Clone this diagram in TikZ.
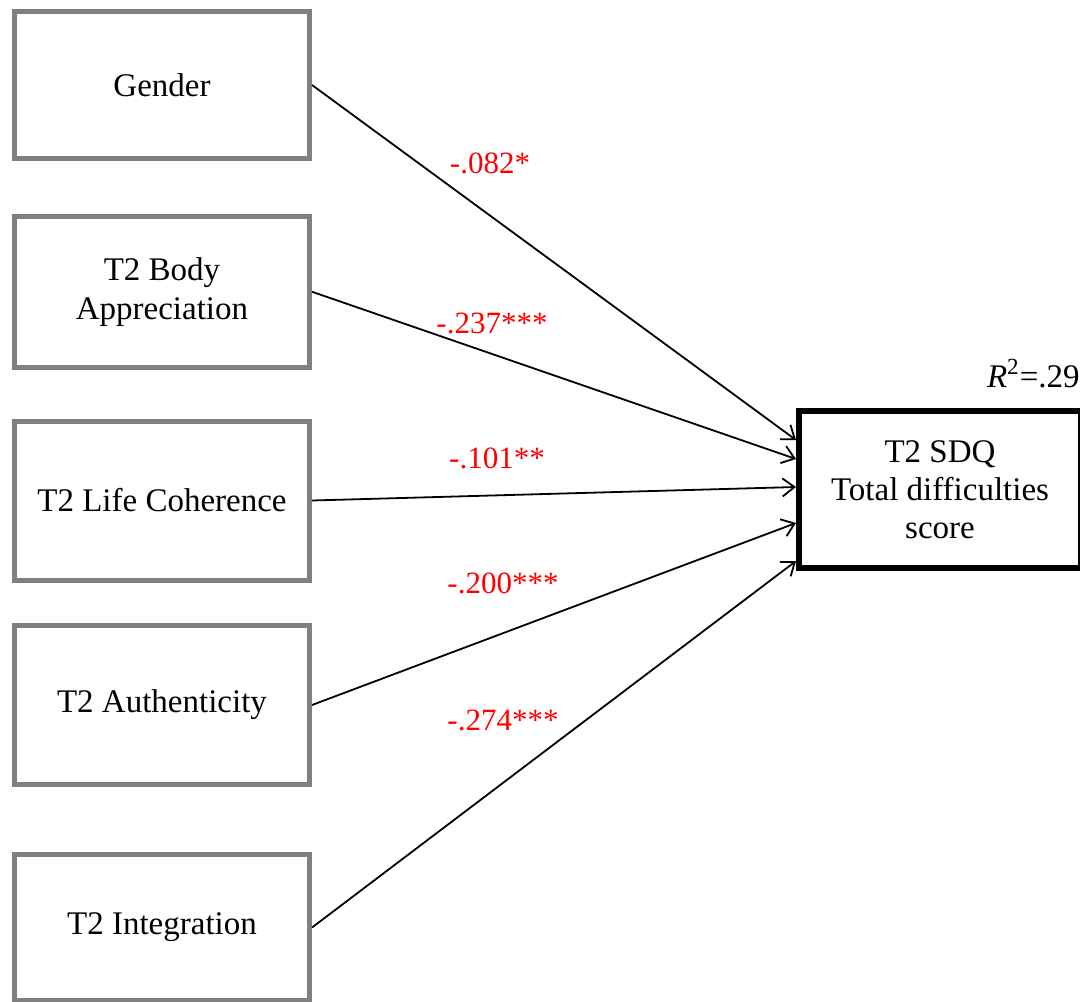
\documentclass[tikz,border=0pt]{standalone}
\usepackage{fontspec}
\setmainfont{Liberation Serif}
\usetikzlibrary{arrows.meta}
\definecolor{boxgray}{HTML}{808080}
\definecolor{coefred}{HTML}{FF0000}
\begin{document}
\begin{tikzpicture}[x=0.5pt,y=-0.5pt,
  predictor/.style={draw=boxgray, line width=2.5pt, fill=white, inner sep=0pt,
    minimum width=147.5pt, align=center,
    font=\fontsize{16.5pt}{19.5pt}\selectfont},
  outcome/.style={draw=black, line width=3pt, fill=white, inner sep=0pt,
    minimum width=141pt, minimum height=78.75pt, align=center,
    font=\fontsize{16.5pt}{19pt}\selectfont},
  path/.style={draw=black, line width=0.9pt,
    -{Straight Barb[length=6pt,width=9pt,line width=0.9pt]}},
  coef/.style={text=coefred, anchor=base, inner sep=0pt,
    font=\fontsize{15.5pt}{18pt}\selectfont}]
  \useasboundingbox (0,0) rectangle (1080,1001);
  \clip (0,0) rectangle (1080,1001);

  % predictors
  \node[predictor, minimum height=73.5pt]  (gender) at (162,85)     {Gender};
  \node[predictor, minimum height=75.75pt] (body)   at (162,291.75) {T2 Body\\Appreciation};
  \node[predictor, minimum height=79.5pt]  (life)   at (162,500.5)  {T2 Life Coherence};
  \node[predictor, minimum height=79.5pt]  (auth)   at (162,705)    {T2 Authenticity};
  \node[predictor, minimum height=73pt]    (integ)  at (162,927.5)  {T2 Integration};

  % outcome
  \node[outcome] (sdq) at (940,489.25) {T2 SDQ\\Total difficulties\\score};
  \node[anchor=base east, inner sep=0pt, font=\fontsize{16.5pt}{19.5pt}\selectfont]
    (rsq) at (1080,387) {\textit{R}\textsuperscript{2}=.29};

  % arrow targets on the outcome's left edge
  \coordinate (t1) at (sdq.west |- 0,440);
  \coordinate (t2) at (sdq.west |- 0,459);
  \coordinate (t3) at (sdq.west |- 0,487);
  \coordinate (t4) at (sdq.west |- 0,523);
  \coordinate (t5) at (sdq.west |- 0,561);

  \draw[path] (gender.east) -- (t1);
  \draw[path] (body.east)   -- (t2);
  \draw[path] (life.east)   -- (t3);
  \draw[path] (auth.east)   -- (t4);
  \draw[path] (integ.east)  -- (t5);

  % standardized coefficients
  \node[coef] (c1) at (490,173) {-.082*};
  \node[coef] (c2) at (492,333) {-.237***};
  \node[coef] (c3) at (497,468) {-.101**};
  \node[coef] (c4) at (503,593) {-.200***};
  \node[coef] (c5) at (503,730) {-.274***};
\end{tikzpicture}
\end{document}
